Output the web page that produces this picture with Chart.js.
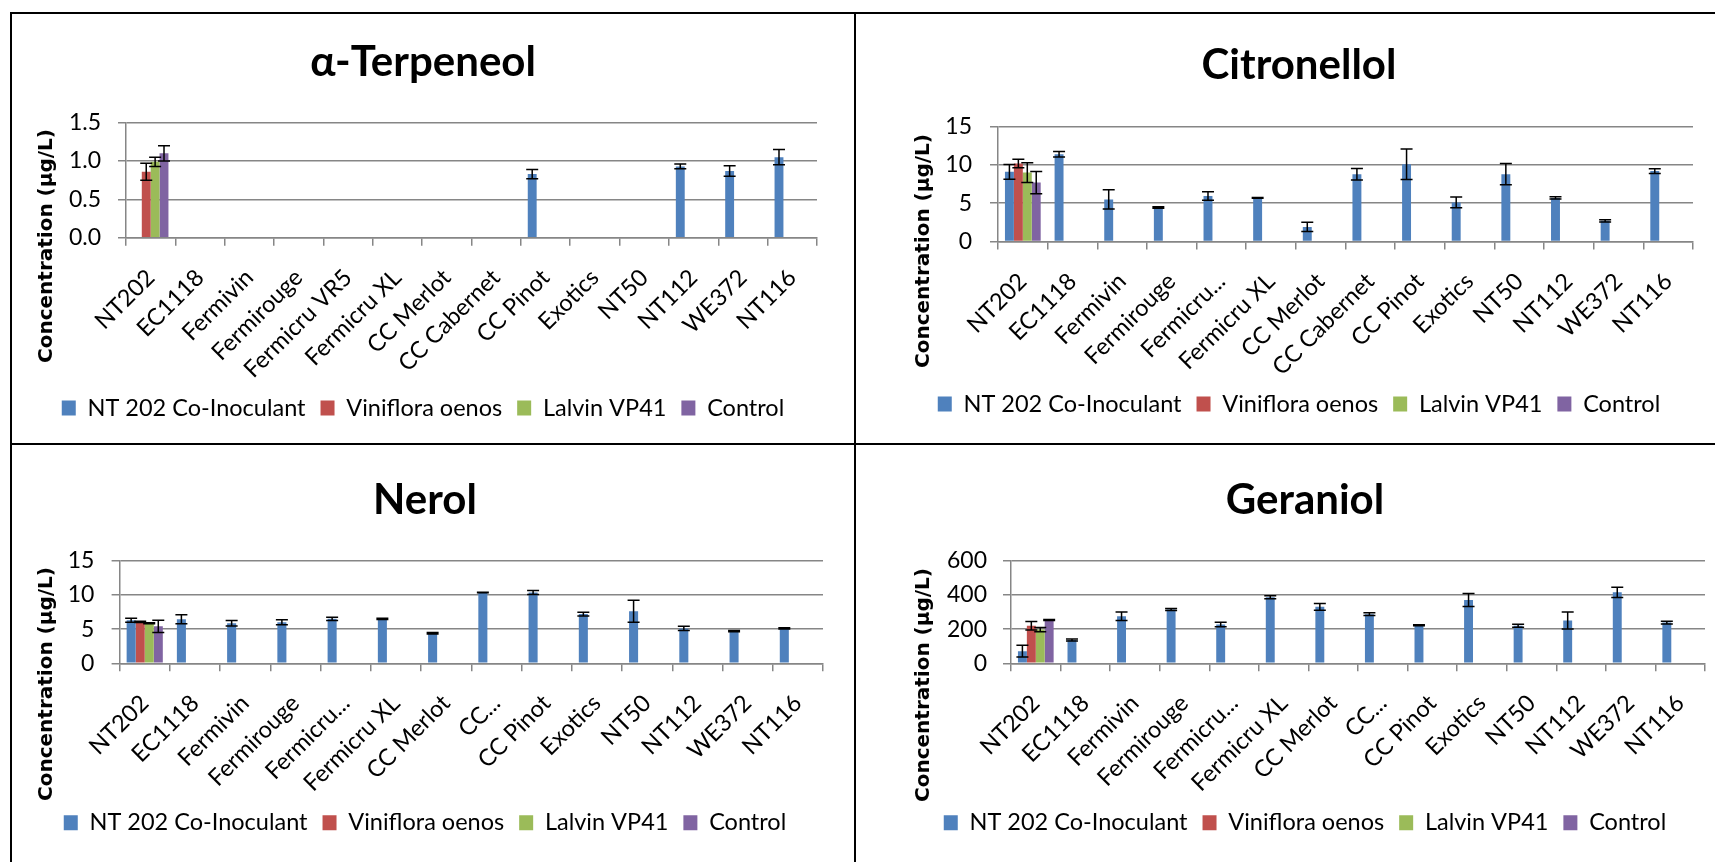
<!DOCTYPE html>
<html>
<head>
<meta charset="utf-8">
<script src="https://cdn.jsdelivr.net/npm/chart.js@4"></script>
<style>
  html, body { margin: 0; padding: 0; background: #fff; }
  body { width: 1715px; height: 862px; position: relative; overflow: hidden; }
  .panel { position: absolute; }
  .rule { position: absolute; background: #000; }
</style>
</head>
<body>
<div class="rule" style="left:10px;top:12px;width:1705px;height:2px"></div>
<div class="rule" style="left:10px;top:12px;width:2px;height:850px"></div>
<div class="rule" style="left:854px;top:12px;width:2px;height:850px"></div>
<div class="rule" style="left:10px;top:443px;width:1705px;height:2px"></div>

<div class="panel" style="left:12px;top:14px"><canvas id="terpChart" width="842" height="429"></canvas></div>
<div class="panel" style="left:856px;top:14px"><canvas id="citroChart" width="859" height="429"></canvas></div>
<div class="panel" style="left:12px;top:445px"><canvas id="nerolChart" width="842" height="417"></canvas></div>
<div class="panel" style="left:856px;top:445px"><canvas id="geranChart" width="859" height="417"></canvas></div>

<script>
Chart.defaults.font.family = 'Lato, "Liberation Sans", sans-serif';
Chart.defaults.color = '#000';

// ---- data ----
const strains = ['NT202', 'EC1118', 'Fermivin', 'Fermirouge', 'Fermicru VR5', 'Fermicru XL', 'CC Merlot',
    'CC Cabernet', 'CC Pinot', 'Exotics', 'NT50', 'NT112', 'WE372', 'NT116'];
const ticksCitro = ['NT202', 'EC1118', 'Fermivin', 'Fermirouge', 'Fermicru...', 'Fermicru XL', 'CC Merlot',
    'CC Cabernet', 'CC Pinot', 'Exotics', 'NT50', 'NT112', 'WE372', 'NT116'];
const ticksShort = ['NT202', 'EC1118', 'Fermivin', 'Fermirouge', 'Fermicru...', 'Fermicru XL', 'CC Merlot',
    'CC...', 'CC Pinot', 'Exotics', 'NT50', 'NT112', 'WE372', 'NT116'];

const seriesNames = ['NT 202 Co-Inoculant', 'Viniflora oenos', 'Lalvin VP41', 'Control'];
const seriesColors = ['#4F81BD', '#C0504D', '#9BBB59', '#8064A2'];

// alpha-terpeneol: co-inoculant per strain, the other three only at NT202
const terpCo = [0, 0, 0, 0, 0, 0, 0, 0, 0.83, 0, 0, 0.93, 0.87, 1.05];
const terpCoErr = [0, 0, 0, 0, 0, 0, 0, 0, 0.06, 0, 0, 0.03, 0.07, 0.10];
const terpNT202 = [0.86, 0.99, 1.10];
const terpNT202Err = [0.11, 0.06, 0.10];

// citronellol
const citroCo = [9.1, 11.4, 5.5, 4.45, 5.95, 5.7, 1.9, 8.8, 10.1, 5.1, 8.8, 5.7, 2.7, 9.2];
const citroCoErr = [0.95, 0.35, 1.25, 0.1, 0.55, 0.06, 0.6, 0.75, 2.0, 0.7, 1.4, 0.15, 0.15, 0.3];
const citroNT202 = [10.2, 9.0, 7.7];
const citroNT202Err = [0.55, 1.3, 1.45];

// nerol
const nerolCo = [6.3, 6.45, 5.85, 6.0, 6.5, 6.5, 4.4, 10.35, 10.35, 7.2, 7.6, 5.1, 4.7, 5.1];
const nerolCoErr = [0.3, 0.65, 0.4, 0.35, 0.25, 0.08, 0.12, 0.05, 0.3, 0.27, 1.6, 0.32, 0.08, 0.08];
const nerolNT202 = [6.05, 5.85, 5.4];
const nerolNT202Err = [0.08, 0.08, 0.9];

// geraniol
const geranCo = [71, 136, 275, 315, 227, 386, 330, 287, 222, 370, 220, 250, 415, 238];
const geranCoErr = [34, 6, 25, 6, 13, 9, 20, 8, 3, 38, 9, 50, 30, 8];
const geranNT202 = [220, 197, 253];
const geranNT202Err = [25, 12, 3];

// ---- error bars ----
const errorBars = {
    id: 'errorBars',
    afterDatasetsDraw(chart) {
        const ctx = chart.ctx;
        const yScale = chart.scales.y;
        ctx.save();
        ctx.strokeStyle = '#000';
        ctx.lineWidth = 1.5;
        chart.data.datasets.forEach((ds, i) => {
            const meta = chart.getDatasetMeta(i);
            meta.data.forEach((bar, j) => {
                const v = ds.data[j];
                const e = ds.errors[j];
                if (v == null || !e) return;
                const top = yScale.getPixelForValue(v + e);
                const bot = yScale.getPixelForValue(v - e);
                ctx.beginPath();
                ctx.moveTo(bar.x, top); ctx.lineTo(bar.x, bot);
                ctx.moveTo(bar.x - 6, top); ctx.lineTo(bar.x + 6, top);
                ctx.moveTo(bar.x - 6, bot); ctx.lineTo(bar.x + 6, bot);
                ctx.stroke();
            });
        });
        ctx.restore();
    }
};

// rotated axis title, placed like the spreadsheet does (centred on plot + labels)
const sideTitle = {
    id: 'sideTitle',
    afterDraw(chart, args, opts) {
        const ctx = chart.ctx;
        ctx.save();
        ctx.translate(opts.x, opts.y);
        ctx.rotate(-Math.PI / 2);
        ctx.font = 'bold 20px "DejaVu Sans"';
        ctx.fillStyle = '#000';
        ctx.textAlign = 'center';
        ctx.textBaseline = 'middle';
        ctx.fillText(opts.text, 0, 0);
        ctx.restore();
    }
};

const GRID = '#868686';

function makeChart(id, box, geo, title, tickLabels, yMax, yStep, yFmt, co, coErr, nt202, nt202Err) {
    // wanted positions (page px) -> paddings inside the canvas
    const L = geo.left - box.x, R = geo.right - box.x, T = geo.top - box.y, B = geo.bottom - box.y;
    const cx = geo.centerX - box.x;
    const padR = box.w - R;
    const padL = 2 * cx - R;
    const yW = L - padL;
    const titleLH = 42 * 1.2;
    const tpT = (geo.titleY - box.y) - titleLH / 2;
    const tpB = T - tpT - titleLH;
    const legPad = 15, legFont = 23.5;
    const legTop = (geo.legendY - box.y) - (legPad + legFont / 2);
    const legH = legFont + legPad + 10;
    const padB = box.h - legTop - legH;
    const xH = legTop - B;
    const tickPad = L - 8 - (geo.tickRight - box.x);

    const datasets = seriesNames.map((name, k) => ({
        label: name,
        backgroundColor: seriesColors[k],
        data: k === 0 ? co : strains.map((s, i) => (i === 0 ? nt202[k - 1] : null)),
        errors: k === 0 ? coErr : strains.map((s, i) => (i === 0 ? nt202Err[k - 1] : null)),
    }));

    return new Chart(document.getElementById(id), {
        type: 'bar',
        data: { labels: tickLabels, datasets },
        plugins: [errorBars, sideTitle],
        options: {
            responsive: false,
            animation: false,
            devicePixelRatio: 1,
            categoryPercentage: 0.72,
            barPercentage: 1.0,
            layout: { padding: { left: padL, right: padR, top: 0, bottom: padB } },
            plugins: {
                title: {
                    display: true,
                    text: title,
                    color: '#000',
                    font: { size: 42, weight: 'bold' },
                    padding: { top: tpT, bottom: tpB },
                },
                legend: {
                    position: 'bottom',
                    labels: { boxWidth: 14, boxHeight: 15, padding: legPad, font: { size: legFont }, color: '#000' },
                },
                tooltip: { enabled: false },
                sideTitle: { text: 'Concentration (µg/L)', x: geo.yTitleX - box.x, y: geo.yTitleY - box.y },
            },
            scales: {
                x: {
                    grid: { drawOnChartArea: false, drawTicks: true, tickLength: 8, offset: true, color: GRID, lineWidth: 1.5 },
                    border: { color: GRID, width: 1.5 },
                    ticks: { autoSkip: false, minRotation: 45, maxRotation: 45, padding: 18, font: { size: 23.5 } },
                    afterFit: (s) => { s.height = xH; s.paddingLeft = 0; s.paddingRight = 0; },
                },
                y: {
                    min: 0,
                    max: yMax,
                    grid: { color: GRID, lineWidth: 1.5, tickLength: 8 },
                    border: { color: GRID, width: 1.5 },
                    ticks: { stepSize: yStep, padding: tickPad, font: { size: 23 }, callback: yFmt },
                    afterFit: (s) => { s.width = yW; s.paddingTop = 0; s.paddingBottom = 0; },
                },
            },
        },
    });
}

const plain = (v) => String(v);

makeChart('terpChart', { x: 12, y: 14, w: 842, h: 429 },
    { left: 126, right: 817, top: 122.7, bottom: 237.7, titleY: 62, centerX: 423, legendY: 408,
      yTitleX: 47, yTitleY: 246, tickRight: 101 },
    'α-Terpeneol', strains, 1.5, 0.5, (v) => v.toFixed(1), terpCo, terpCoErr, terpNT202, terpNT202Err);

makeChart('citroChart', { x: 856, y: 14, w: 859, h: 429 },
    { left: 998, right: 1693, top: 126.7, bottom: 241.5, titleY: 65, centerX: 1299, legendY: 404,
      yTitleX: 924, yTitleY: 251, tickRight: 972 },
    'Citronellol', ticksCitro, 15, 5, plain, citroCo, citroCoErr, citroNT202, citroNT202Err);

makeChart('nerolChart', { x: 12, y: 445, w: 842, h: 417 },
    { left: 119.6, right: 823, top: 560.7, bottom: 663.3, titleY: 500, centerX: 425, legendY: 822.7,
      yTitleX: 46.6, yTitleY: 684, tickRight: 94.4 },
    'Nerol', ticksShort, 15, 5, plain, nerolCo, nerolCoErr, nerolNT202, nerolNT202Err);

makeChart('geranChart', { x: 856, y: 445, w: 859, h: 417 },
    { left: 1011, right: 1705, top: 560.7, bottom: 663.3, titleY: 500, centerX: 1305, legendY: 822.7,
      yTitleX: 924, yTitleY: 685, tickRight: 987 },
    'Geraniol', ticksShort, 600, 200, plain, geranCo, geranCoErr, geranNT202, geranNT202Err);
</script>
</body>
</html>
